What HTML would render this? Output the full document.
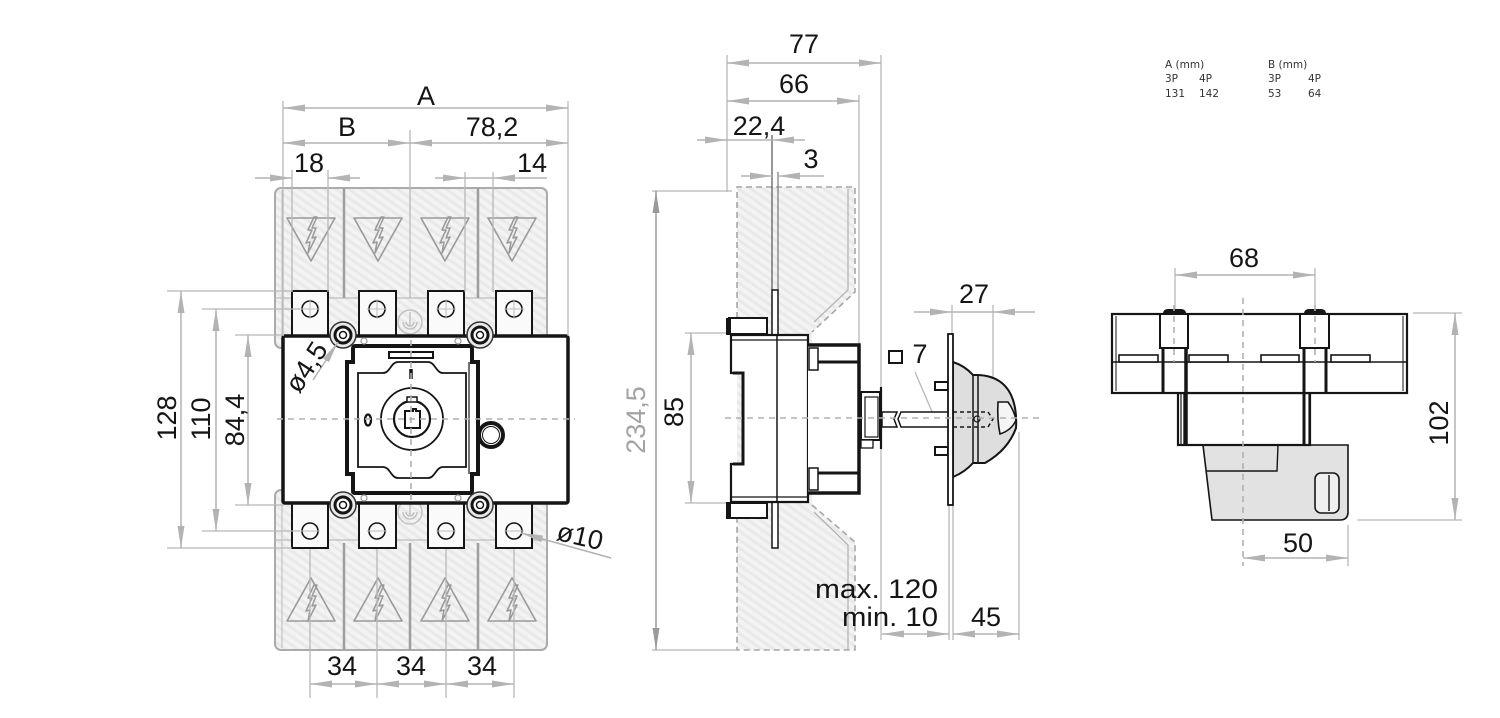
<!DOCTYPE html>
<html>
<head>
<meta charset="utf-8">
<style>
html,body{margin:0;padding:0;background:#fff;}
svg{display:block;}
.t{font-family:"Liberation Sans",Arial,sans-serif;font-size:27px;fill:#151515;}
.tg{font-family:"Liberation Sans",Arial,sans-serif;font-size:27px;fill:#a3a3a3;}
.sm{font-family:"DejaVu Sans","Liberation Sans",sans-serif;font-size:10.5px;fill:#333;}
.d{stroke:#b3b3b3;stroke-width:1.5;fill:none;}
.e{stroke:#b8b8b8;stroke-width:1.3;fill:none;}
.k{stroke:#151515;fill:none;}
.cl{stroke:#b0b0b0;stroke-width:1.6;stroke-dasharray:6 5;fill:none;}
</style>
</head>
<body>
<svg width="1500" height="718" viewBox="0 0 1500 718" xmlns="http://www.w3.org/2000/svg">
<defs>
<marker id="a" viewBox="0 0 22 7" refX="22" refY="3.5" markerWidth="22" markerHeight="7" markerUnits="userSpaceOnUse" orient="auto-start-reverse">
<path d="M0,0 L22,3.5 L0,7 Z" fill="#b3b3b3"/>
</marker>
<marker id="ag" viewBox="0 0 22 7" refX="22" refY="3.5" markerWidth="22" markerHeight="7" markerUnits="userSpaceOnUse" orient="auto-start-reverse">
<path d="M0,0 L22,3.5 L0,7 Z" fill="#9a9a9a"/>
</marker>
<pattern id="h" width="14" height="14" patternUnits="userSpaceOnUse" patternTransform="rotate(35)">
<rect width="14" height="14" fill="#f3f3f3"/>
<path d="M0,4 H14 M0,11 H14" stroke="#e9e9e9" stroke-width="3"/>
</pattern>
<g id="bolt">
<path d="M3,-19 L-3,-6 L1,-6 L-5,7 L-1,6 L-3,17 L5,1 L1,2 L5,-8 L1,-8 L6,-19 Z" fill="none" stroke="#999" stroke-width="1.5" stroke-linejoin="round"/>
</g>
</defs>

<!-- ================= FRONT VIEW ================= -->
<rect x="275" y="188" width="272" height="160" rx="6" fill="url(#h)" stroke="#ababab" stroke-width="2"/>
<line x1="282" y1="190" x2="282" y2="346" stroke="#c4c4c4" stroke-width="1.2"/>
<line x1="275" y1="298" x2="547" y2="298" stroke="#bdbdbd" stroke-width="1.2"/>
<line x1="344" y1="188" x2="344" y2="298" stroke="#9e9e9e" stroke-width="2.5"/>
<line x1="478" y1="188" x2="478" y2="298" stroke="#9e9e9e" stroke-width="2.5"/>
<g stroke="#9a9a9a" stroke-width="1.6" fill="none" stroke-linejoin="round">
<path d="M287,218 H335 L311,261 Z"/>
<path d="M354,218 H402 L378,261 Z"/>
<path d="M421,218 H469 L445,261 Z"/>
<path d="M488,218 H536 L512,261 Z"/>
</g>
<use href="#bolt" x="311" y="236"/>
<use href="#bolt" x="378" y="236"/>
<use href="#bolt" x="445" y="236"/>
<use href="#bolt" x="512" y="236"/>

<rect x="275" y="490" width="272" height="160" rx="6" fill="url(#h)" stroke="#ababab" stroke-width="2"/>
<line x1="282" y1="492" x2="282" y2="648" stroke="#c4c4c4" stroke-width="1.2"/>
<line x1="275" y1="540" x2="547" y2="540" stroke="#bdbdbd" stroke-width="1.2"/>
<line x1="344" y1="543" x2="344" y2="650" stroke="#9e9e9e" stroke-width="2.5"/>
<line x1="410" y1="543" x2="410" y2="650" stroke="#9e9e9e" stroke-width="2.5"/>
<line x1="478" y1="543" x2="478" y2="650" stroke="#9e9e9e" stroke-width="2.5"/>
<g stroke="#9a9a9a" stroke-width="1.6" fill="none" stroke-linejoin="round">
<path d="M287,621 H335 L311,578 Z"/>
<path d="M354,621 H402 L378,578 Z"/>
<path d="M421,621 H469 L445,578 Z"/>
<path d="M488,621 H536 L512,578 Z"/>
</g>
<use href="#bolt" x="311" y="604"/>
<use href="#bolt" x="378" y="604"/>
<use href="#bolt" x="445" y="604"/>
<use href="#bolt" x="512" y="604"/>

<g class="e">
<line x1="310" y1="520" x2="310" y2="698"/>
<line x1="377" y1="520" x2="377" y2="698"/>
<line x1="446" y1="520" x2="446" y2="698"/>
<line x1="514" y1="520" x2="514" y2="698"/>
</g>

<g stroke="#c2c2c2" stroke-width="1.5" fill="none">
<circle cx="410" cy="322" r="12"/><path d="M403,322 a7,7 0 0 0 14,0"/><path d="M406,322 a4,4 0 0 0 8,0"/><line x1="410" y1="312" x2="410" y2="326"/>
<circle cx="410" cy="512" r="12"/><path d="M403,512 a7,7 0 0 0 14,0"/><path d="M406,512 a4,4 0 0 0 8,0"/><line x1="410" y1="502" x2="410" y2="516"/>
</g>

<g stroke="#151515" stroke-width="2" fill="#fafafa">
<rect x="292" y="291" width="36" height="48"/>
<rect x="359" y="291" width="37" height="48"/>
<rect x="428" y="291" width="36" height="48"/>
<rect x="496" y="291" width="36" height="48"/>
<rect x="292" y="500" width="36" height="48"/>
<rect x="359" y="500" width="37" height="48"/>
<rect x="428" y="500" width="36" height="48"/>
<rect x="496" y="500" width="36" height="48"/>
</g>
<g stroke="#151515" stroke-width="1.6" fill="none">
<circle cx="310" cy="309" r="8"/><circle cx="377" cy="309" r="8"/><circle cx="446" cy="309" r="8"/><circle cx="514" cy="309" r="8"/>
<circle cx="310" cy="531" r="8"/><circle cx="377" cy="531" r="8"/><circle cx="446" cy="531" r="8"/><circle cx="514" cy="531" r="8"/>
</g>
<g stroke="#bcbcbc" stroke-width="1">
<path d="M310,299 V319 M300,309 H320 M377,299 V319 M367,309 H387 M446,299 V319 M436,309 H456 M514,299 V319 M504,309 H524"/>
<path d="M300,531 H320 M367,531 H387 M436,531 H456 M504,531 H524"/>
</g>

<rect x="283" y="336" width="285" height="167" rx="2" fill="#fff" stroke="#151515" stroke-width="3.5"/>
<path d="M355,346 H470 Q472,346 472,349 V362 H478 V474 H472 V491 Q472,493 470,493 H355 Q353,493 353,491 V474 H347 V362 H353 V349 Q353,346 355,346 Z" fill="#fff" stroke="#151515" stroke-width="4"/>
<line x1="469" y1="362" x2="469" y2="474" stroke="#151515" stroke-width="1.2"/>
<rect x="389" y="352" width="44" height="6" fill="none" stroke="#151515" stroke-width="2"/>
<path d="M358,373 H383 C390,373 391,362 398,362 H428 C435,362 436,373 443,373 H466 V467 H443 C436,467 435,478 428,478 H398 C391,478 390,467 383,467 H358 Z" fill="none" stroke="#151515" stroke-width="1.8"/>
<line x1="411" y1="369" x2="411" y2="379" stroke="#151515" stroke-width="3.5"/>
<ellipse cx="368" cy="420" rx="3" ry="5.5" fill="none" stroke="#151515" stroke-width="2.3"/>
<circle cx="412" cy="419" r="31" fill="none" stroke="#151515" stroke-width="1.8"/>
<circle cx="412" cy="419" r="18" fill="none" stroke="#151515" stroke-width="2.2"/>
<rect x="407" y="397" width="10" height="5" fill="#fff" stroke="#151515" stroke-width="1.5"/>
<path d="M405,411 H413 V409 H416 V411 H420 V428 H405 Z" fill="none" stroke="#151515" stroke-width="2"/>
<circle cx="491" cy="435" r="12" fill="#fff" stroke="#151515" stroke-width="4"/>
<circle cx="491" cy="435" r="8.5" fill="none" stroke="#151515" stroke-width="1"/>
<line x1="277" y1="419" x2="575" y2="419" class="cl"/>
<line x1="411" y1="340" x2="411" y2="500" class="cl"/>

<g>
<circle cx="343" cy="335" r="13" fill="#e9e9e9" stroke="#333" stroke-width="1.5"/>
<circle cx="343" cy="335" r="8" fill="#fff" stroke="#151515" stroke-width="3"/>
<circle cx="343" cy="335" r="3.5" fill="none" stroke="#151515" stroke-width="1.5"/>
<circle cx="480" cy="335" r="13" fill="#e9e9e9" stroke="#333" stroke-width="1.5"/>
<circle cx="480" cy="335" r="8" fill="#fff" stroke="#151515" stroke-width="3"/>
<circle cx="480" cy="335" r="3.5" fill="none" stroke="#151515" stroke-width="1.5"/>
<circle cx="343" cy="505" r="13" fill="#e9e9e9" stroke="#333" stroke-width="1.5"/>
<circle cx="343" cy="505" r="8" fill="#fff" stroke="#151515" stroke-width="3"/>
<circle cx="343" cy="505" r="3.5" fill="none" stroke="#151515" stroke-width="1.5"/>
<circle cx="480" cy="505" r="13" fill="#e9e9e9" stroke="#333" stroke-width="1.5"/>
<circle cx="480" cy="505" r="8" fill="#fff" stroke="#151515" stroke-width="3"/>
<circle cx="480" cy="505" r="3.5" fill="none" stroke="#151515" stroke-width="1.5"/>
</g>
<g fill="#fff" stroke="#999" stroke-width="1.2">
<circle cx="364" cy="341" r="3"/><circle cx="458" cy="341" r="3"/>
<circle cx="364" cy="498" r="3"/><circle cx="458" cy="498" r="3"/>
</g>

<g class="e">
<line x1="283" y1="101" x2="283" y2="336"/>
<line x1="568" y1="101" x2="568" y2="336"/>
<line x1="410" y1="130" x2="410" y2="298"/>
<line x1="292" y1="170" x2="292" y2="292"/>
<line x1="328" y1="170" x2="328" y2="292"/>
<line x1="465" y1="172" x2="465" y2="292"/>
<line x1="493" y1="172" x2="493" y2="292"/>
<line x1="167" y1="291" x2="292" y2="291"/>
<line x1="167" y1="548" x2="292" y2="548"/>
<line x1="202" y1="309" x2="300" y2="309"/>
<line x1="202" y1="531" x2="300" y2="531"/>
<line x1="235" y1="335" x2="284" y2="335"/>
<line x1="235" y1="505" x2="284" y2="505"/>
</g>
<g class="d">
<line x1="283" y1="108" x2="568" y2="108" marker-start="url(#a)" marker-end="url(#a)"/>
<line x1="283" y1="143" x2="410" y2="143" marker-start="url(#a)" marker-end="url(#a)"/>
<line x1="410" y1="143" x2="568" y2="143" marker-start="url(#a)" marker-end="url(#a)"/>
<line x1="255" y1="178" x2="292" y2="178" marker-end="url(#a)"/>
<line x1="360" y1="178" x2="328" y2="178" marker-end="url(#a)"/>
<line x1="435" y1="178" x2="465" y2="178" marker-end="url(#a)"/>
<line x1="547" y1="178" x2="493" y2="178" marker-end="url(#a)"/>
<line x1="465" y1="178" x2="493" y2="178"/>
<line x1="181" y1="291" x2="181" y2="548" marker-start="url(#a)" marker-end="url(#a)"/>
<line x1="216" y1="309" x2="216" y2="531" marker-start="url(#a)" marker-end="url(#a)"/>
<line x1="248" y1="335" x2="248" y2="505" marker-start="url(#a)" marker-end="url(#a)"/>
<line x1="310" y1="684" x2="377" y2="684" marker-start="url(#a)" marker-end="url(#a)"/>
<line x1="377" y1="684" x2="446" y2="684" marker-start="url(#a)" marker-end="url(#a)"/>
<line x1="446" y1="684" x2="514" y2="684" marker-start="url(#a)" marker-end="url(#a)"/>
<line x1="313" y1="380" x2="338" y2="342" marker-end="url(#a)"/>
<line x1="611" y1="558" x2="521" y2="533" marker-end="url(#a)"/>
</g>
<text class="t" x="426" y="105" text-anchor="middle">A</text>
<text class="t" x="347" y="136" text-anchor="middle">B</text>
<text class="t" x="492" y="136" text-anchor="middle">78,2</text>
<text class="t" x="309" y="172" text-anchor="middle">18</text>
<text class="t" x="532" y="172" text-anchor="middle">14</text>
<text class="t" text-anchor="middle" transform="translate(176,418) rotate(-90)">128</text>
<text class="t" text-anchor="middle" transform="translate(210,419) rotate(-90)">110</text>
<text class="t" text-anchor="middle" transform="translate(244,420) rotate(-90)">84,4</text>
<text class="t" x="342" y="675" text-anchor="middle">34</text>
<text class="t" x="411" y="675" text-anchor="middle">34</text>
<text class="t" x="482" y="675" text-anchor="middle">34</text>
<text class="t" text-anchor="middle" transform="translate(314,372) rotate(-57)">ø4,5</text>
<text class="t" text-anchor="middle" transform="translate(578,545) rotate(13)">ø10</text>

<!-- ================= SIDE VIEW ================= -->
<path d="M737,187 H855 V292 L812,332 V505 L855,542 V650 H737 Z" fill="url(#h)"/>
<g fill="none" stroke="#a6a6a6" stroke-width="1.6" stroke-dasharray="6 4">
<path d="M737,318 V187 H855 V292 L812,332"/>
<path d="M812,505 L855,542 V650 H737 V518"/>
</g>
<path d="M848,189 V290 L814,322 M814,512 L848,545 V650" fill="none" stroke="#b5b5b5" stroke-width="1.3"/>

<g class="e">
<line x1="727" y1="55" x2="727" y2="192"/>
<line x1="881" y1="55" x2="881" y2="640"/>
<line x1="859" y1="95" x2="859" y2="345"/>
<line x1="652" y1="191" x2="732" y2="191"/>
<line x1="652" y1="650" x2="737" y2="650"/>
<line x1="685" y1="333" x2="728" y2="333"/>
<line x1="685" y1="503" x2="728" y2="503"/>
<line x1="952" y1="305" x2="952" y2="334"/>
<line x1="993" y1="305" x2="993" y2="378"/>
<line x1="949" y1="505" x2="949" y2="640"/>
<line x1="953" y1="505" x2="953" y2="640"/>
<line x1="1019" y1="432" x2="1019" y2="640"/>
<line x1="915" y1="372" x2="933" y2="414"/>
</g>
<line x1="772" y1="135" x2="772" y2="290" stroke="#555" stroke-width="1.2"/>
<line x1="778" y1="172" x2="778" y2="290" stroke="#777" stroke-width="1.2"/>
<g class="d">
<line x1="727" y1="63" x2="881" y2="63" marker-start="url(#a)" marker-end="url(#a)"/>
<line x1="727" y1="101" x2="859" y2="101" marker-start="url(#a)" marker-end="url(#a)"/>
<line x1="697" y1="140" x2="727" y2="140" marker-end="url(#a)"/>
<line x1="805" y1="140" x2="772" y2="140" marker-end="url(#a)"/>
<line x1="727" y1="140" x2="772" y2="140"/>
<line x1="741" y1="176" x2="772" y2="176" marker-end="url(#a)"/>
<line x1="824" y1="176" x2="778" y2="176" marker-end="url(#a)"/>
<line x1="691" y1="333" x2="691" y2="503" marker-start="url(#a)" marker-end="url(#a)"/>
<line x1="914" y1="312" x2="952" y2="312" marker-end="url(#a)"/>
<line x1="1035" y1="312" x2="993" y2="312" marker-end="url(#a)"/>
<line x1="952" y1="312" x2="993" y2="312"/>
<line x1="882" y1="634" x2="949" y2="634" marker-start="url(#a)" marker-end="url(#a)"/>
<line x1="953" y1="634" x2="1019" y2="634" marker-start="url(#a)" marker-end="url(#a)"/>
</g>
<line x1="656" y1="191" x2="656" y2="650" stroke="#9a9a9a" stroke-width="1.5" marker-start="url(#ag)" marker-end="url(#ag)"/>

<rect x="772" y="290" width="6" height="258" fill="#fff" stroke="#151515" stroke-width="1.5"/>
<rect x="729" y="318" width="38" height="16" fill="#fff" stroke="#151515" stroke-width="2"/>
<rect x="729" y="503" width="38" height="15" fill="#fff" stroke="#151515" stroke-width="2"/>
<rect x="726" y="318" width="5" height="17" fill="#151515"/>
<rect x="726" y="502" width="5" height="17" fill="#151515"/>
<path d="M731,335 H808 V502 H731 V464 H743 V373 H731 Z" fill="#fff" stroke="#151515" stroke-width="2.2"/>
<line x1="731" y1="340" x2="808" y2="340" stroke="#151515" stroke-width="1.2"/>
<line x1="731" y1="497" x2="808" y2="497" stroke="#151515" stroke-width="1.2"/>
<path d="M733,373 H743 V464 H733" fill="none" stroke="#151515" stroke-width="3"/>
<line x1="777" y1="335" x2="777" y2="502" stroke="#151515" stroke-width="1.5"/>
<path d="M808,345 H859 V493 H808" fill="#fff" stroke="#151515" stroke-width="3.5"/>
<line x1="818" y1="362" x2="859" y2="362" stroke="#151515" stroke-width="3"/>
<line x1="818" y1="473" x2="859" y2="473" stroke="#151515" stroke-width="3"/>
<rect x="809" y="348" width="9" height="22" fill="#fff" stroke="#151515" stroke-width="1.5"/>
<rect x="809" y="468" width="9" height="22" fill="#fff" stroke="#151515" stroke-width="1.5"/>
<rect x="861" y="392" width="19" height="48" fill="#fff" stroke="#151515" stroke-width="2"/>
<rect x="865" y="397" width="13" height="40" fill="none" stroke="#151515" stroke-width="1.2"/>
<line x1="881" y1="387" x2="881" y2="449" stroke="#151515" stroke-width="2.2"/>
<rect x="861" y="440" width="12" height="8" fill="#fff" stroke="#151515" stroke-width="1.3"/>
<path d="M882,412 H897 L894,419 L897,427 H882 Z" fill="#fff" stroke="#151515" stroke-width="1.5"/>
<path d="M948,412 H901 L898,419 L901,427 H948" fill="#fff" stroke="#151515" stroke-width="1.5"/>
<rect x="935" y="382" width="13" height="8" fill="#fff" stroke="#151515" stroke-width="2"/>
<rect x="935" y="447" width="13" height="8" fill="#fff" stroke="#151515" stroke-width="2"/>
<path d="M953,362 Q965,366 973,375 H978 Q1005,376 1013,400 Q1017,412 1016,428 Q1008,450 985,463 H973 Q965,472 953,477 Z" fill="#dedede" stroke="#151515" stroke-width="2"/>
<line x1="973" y1="375" x2="973" y2="463" stroke="#151515" stroke-width="1.5"/>
<line x1="978" y1="375" x2="978" y2="463" stroke="#151515" stroke-width="1.5"/>
<path d="M998,402 H1008 Q1014,410 1016,420 Q1012,430 1000,434 Q997,420 998,402 Z" fill="#f5f5f5" stroke="#151515" stroke-width="1.6"/>
<path d="M953,412 H988 L993,419 L988,427 H953" fill="none" stroke="#151515" stroke-width="1.5" stroke-dasharray="4 3"/>
<circle cx="977" cy="419" r="3" fill="none" stroke="#151515" stroke-width="1.2"/>
<rect x="948" y="334" width="5" height="171" fill="#fff" stroke="#151515" stroke-width="1.8"/>
<rect x="889" y="351" width="13" height="12" fill="none" stroke="#151515" stroke-width="2"/>
<line x1="725" y1="418" x2="1040" y2="418" class="cl"/>

<text class="t" x="804" y="53" text-anchor="middle">77</text>
<text class="t" x="794" y="93" text-anchor="middle">66</text>
<text class="t" x="759" y="135" text-anchor="middle">22,4</text>
<text class="t" x="811" y="168" text-anchor="middle">3</text>
<text class="t" x="974" y="303" text-anchor="middle">27</text>
<text class="t" x="920" y="363" text-anchor="middle">7</text>
<text class="t" text-anchor="middle" transform="translate(683,412) rotate(-90)">85</text>
<text class="tg" text-anchor="middle" transform="translate(645,420) rotate(-90)">234,5</text>
<text class="t" x="938" y="598" text-anchor="end" textLength="123" lengthAdjust="spacingAndGlyphs">max. 120</text>
<text class="t" x="938" y="626" text-anchor="end" textLength="96" lengthAdjust="spacingAndGlyphs">min. 10</text>
<text class="t" x="986" y="626" text-anchor="middle">45</text>

<!-- ================= RIGHT VIEW ================= -->
<g class="e">
<line x1="1175" y1="268" x2="1175" y2="318"/>
<line x1="1315" y1="268" x2="1315" y2="318"/>
<line x1="1413" y1="313" x2="1462" y2="313"/>
<line x1="1357" y1="520" x2="1462" y2="520"/>
<line x1="1348" y1="525" x2="1348" y2="566"/>
</g>
<g class="d">
<line x1="1175" y1="275" x2="1315" y2="275" marker-start="url(#a)" marker-end="url(#a)"/>
<line x1="1455" y1="313" x2="1455" y2="520" marker-start="url(#a)" marker-end="url(#a)"/>
<line x1="1243" y1="558" x2="1348" y2="558" marker-start="url(#a)" marker-end="url(#a)"/>
</g>
<path d="M1203,445 H1348 V512 Q1348,520 1340,520 H1212 Z" fill="#e2e2e2" stroke="#151515" stroke-width="1.6"/>
<path d="M1278,445 L1277,471 H1206" fill="none" stroke="#151515" stroke-width="1.4"/>
<rect x="1315" y="473" width="24" height="40" rx="6" fill="#efefef" stroke="#151515" stroke-width="1.6"/>
<line x1="1329" y1="475" x2="1329" y2="511" stroke="#151515" stroke-width="1.4"/>
<rect x="1178" y="393" width="132" height="52" fill="#fff" stroke="#151515" stroke-width="2.2"/>
<line x1="1184" y1="393" x2="1184" y2="445" stroke="#151515" stroke-width="1.4"/>
<line x1="1304" y1="393" x2="1304" y2="445" stroke="#151515" stroke-width="1.4"/>
<rect x="1112" y="314" width="295" height="79" fill="#fff" stroke="#151515" stroke-width="2.2"/>
<line x1="1116" y1="316" x2="1116" y2="391" stroke="#151515" stroke-width="1"/>
<line x1="1403" y1="316" x2="1403" y2="391" stroke="#151515" stroke-width="1"/>
<line x1="1112" y1="362" x2="1407" y2="362" stroke="#151515" stroke-width="1.6"/>
<g fill="#fff" stroke="#151515" stroke-width="1.6">
<rect x="1119" y="355" width="39" height="7"/>
<rect x="1189" y="355" width="39" height="7"/>
<rect x="1261" y="355" width="38" height="7"/>
<rect x="1331" y="355" width="39" height="7"/>
</g>
<g fill="#fff" stroke="#151515">
<rect x="1160" y="314" width="28" height="34" stroke-width="2"/>
<rect x="1300" y="314" width="29" height="34" stroke-width="2"/>
</g>
<path d="M1163,314 Q1163,309 1168,309 H1181 Q1186,309 1186,314 Z" fill="#151515"/>
<path d="M1304,314 Q1304,309 1309,309 H1321 Q1326,309 1326,314 Z" fill="#151515"/>
<g stroke="#151515">
<line x1="1163" y1="348" x2="1163" y2="392" stroke-width="3"/>
<line x1="1186" y1="348" x2="1186" y2="445" stroke-width="3.5"/>
<line x1="1181" y1="392" x2="1181" y2="445" stroke-width="1.2"/>
<line x1="1304" y1="348" x2="1304" y2="445" stroke-width="3"/>
<line x1="1326" y1="348" x2="1326" y2="392" stroke-width="3"/>
<line x1="1309" y1="392" x2="1309" y2="445" stroke-width="1.2"/>
</g>
<line x1="1174" y1="305" x2="1174" y2="362" class="cl"/>
<line x1="1315" y1="305" x2="1315" y2="362" class="cl"/>
<line x1="1243" y1="298" x2="1243" y2="566" class="cl"/>

<text class="t" x="1244" y="267" text-anchor="middle">68</text>
<text class="t" x="1298" y="552" text-anchor="middle">50</text>
<text class="t" text-anchor="middle" transform="translate(1448,423) rotate(-90)">102</text>

<text class="sm" x="1165" y="68">A (mm)</text>
<text class="sm" x="1165" y="82">3P</text>
<text class="sm" x="1199" y="82">4P</text>
<text class="sm" x="1165" y="97">131</text>
<text class="sm" x="1199" y="97">142</text>
<text class="sm" x="1268" y="68">B (mm)</text>
<text class="sm" x="1268" y="82">3P</text>
<text class="sm" x="1308" y="82">4P</text>
<text class="sm" x="1268" y="97">53</text>
<text class="sm" x="1308" y="97">64</text>
</svg>
</body>
</html>
